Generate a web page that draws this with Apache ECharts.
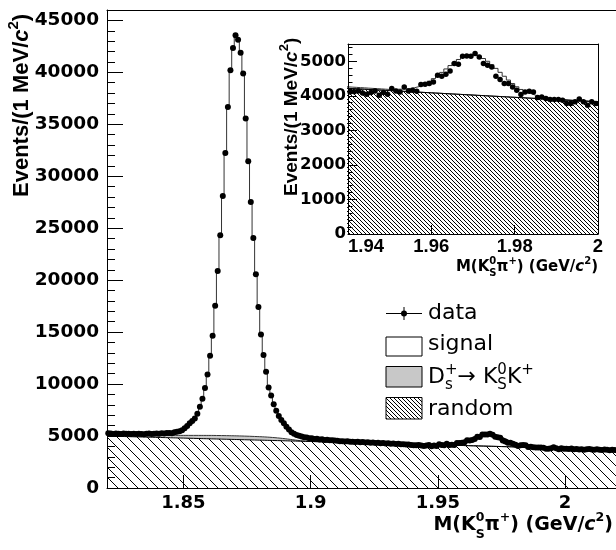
<!DOCTYPE html>
<html><head><meta charset="utf-8">
<script src="https://cdn.jsdelivr.net/npm/echarts@6/dist/echarts.min.js"></script>
<style>html,body{margin:0;padding:0;background:#fff}#c{width:616px;height:550px}</style>
</head><body><div id="c"></div>
<script>
// ---- binning: 200 bins of 1 MeV from 1.82 to 2.02 GeV ----
const massLow = 1.82, massHigh = 2.02, nBins = 200;

// data: events per bin
const counts = [
5260,5240,5200,5250,5230,5190,5240,5210,5230,5200,
5220,5190,5230,5200,5180,5220,5240,5200,5230,5250,
5230,5260,5240,5290,5300,5280,5360,5420,5450,5560,
5740,5960,6220,6440,6700,7140,7820,8590,9615,10930,
12720,14640,17530,20890,24330,28100,32240,36660,40190,42340,
43560,43140,41890,39880,35550,31440,27530,24070,20580,17430,
14780,12790,11180,9680,8910,8050,7430,6920,6540,6220,
5890,5640,5360,5230,5110,5020,4960,4890,4860,4790,
4780,4720,4730,4670,4680,4620,4640,4590,4600,4560,
4540,4500,4510,4470,4490,4450,4460,4420,4440,4410,
4420,4380,4400,4360,4370,4330,4350,4310,4320,4290,
4300,4260,4280,4240,4250,4200,4220,4180,4190,4150,
4110,4120,4140,4085,4046,4095,4143,4017,4095,4046,
4210,4143,4114,4258,4143,4162,4133,4325,4335,4355,
4403,4595,4566,4624,4721,4933,4913,5145,5155,5145,
5222,5125,4933,4884,4836,4566,4470,4355,4355,4258,
4162,4037,4114,4133,4114,3950,3969,3921,3892,3892,
3892,3873,3776,3776,3825,3911,3825,3728,3825,3776,
3780,3750,3800,3720,3760,3700,3740,3690,3720,3760,
3700,3680,3720,3690,3650,3700,3670,3640,3690,3650];

// fit component: random (combinatorial) background
const randomBg = [
4990,4984,4977,4971,4964,4958,4951,4945,4938,4932,
4925,4919,4912,4906,4899,4893,4886,4880,4873,4867,
4860,4854,4847,4841,4834,4828,4821,4815,4808,4802,
4795,4789,4782,4776,4769,4763,4756,4750,4743,4737,
4730,4724,4717,4711,4704,4698,4691,4685,4678,4672,
4665,4659,4652,4646,4639,4633,4626,4620,4613,4607,
4600,4594,4587,4581,4574,4568,4561,4555,4548,4542,
4535,4529,4522,4516,4509,4503,4496,4490,4483,4477,
4470,4464,4457,4451,4444,4438,4431,4425,4418,4412,
4405,4399,4392,4386,4379,4373,4366,4360,4353,4347,
4340,4334,4327,4321,4314,4308,4301,4295,4288,4282,
4275,4269,4262,4256,4249,4243,4236,4230,4223,4217,
4210,4204,4197,4191,4184,4178,4171,4165,4158,4152,
4145,4139,4132,4126,4119,4113,4106,4100,4093,4087,
4080,4074,4067,4061,4054,4048,4041,4035,4028,4022,
4015,4009,4002,3996,3989,3983,3976,3970,3963,3957,
3950,3944,3937,3931,3924,3918,3911,3905,3898,3892,
3885,3879,3872,3866,3859,3853,3846,3840,3833,3827,
3820,3814,3807,3801,3794,3788,3781,3775,3768,3762,
3755,3749,3742,3736,3729,3723,3716,3710,3703,3697];

// fit component: D_s+ -> K_S0 K+ peaking background
const peakingBg = [
120,123,126,129,132,135,138,141,144,147,
150,155,160,165,170,175,180,185,190,195,
200,207,214,221,228,235,242,249,256,263,
270,276,282,288,294,300,306,312,318,324,
330,333,336,339,342,345,347,349,350,351,
352,352,351,350,348,346,343,340,336,332,
327,320,312,302,290,276,260,242,222,200,
176,150,124,98,74,52,34,20,10,4,
0,0,0,0,0,0,0,0,0,0, 0,0,0,0,0,0,0,0,0,0,
0,0,0,0,0,0,0,0,0,0, 0,0,0,0,0,0,0,0,0,0,
0,0,0,0,0,0,0,0,0,0, 0,0,0,0,0,0,0,0,0,0,
0,0,0,0,0,0,0,0,0,0, 0,0,0,0,0,0,0,0,0,0,
0,0,0,0,0,0,0,0,0,0, 0,0,0,0,0,0,0,0,0,0];

// fit component: signal
const signalFit = [
120,121,123,124,126,127,129,130,133,135,
138,138,140,141,144,146,150,154,160,166,
175,183,194,208,228,252,287,331,391,475,
635,855,1136,1386,1687,2087,2738,3538,4559,5869,
7660,9593,12467,15850,19284,23057,27212,31616,35172,37327,
38483,38139,36897,34874,30563,26471,22561,19110,15631,12491,
9853,7876,6281,4797,4046,3206,2609,2123,1760,1468,
1189,961,754,606,517,445,400,370,347,319,
300,276,253,234,216,202,189,175,167,158,
150,141,133,126,121,115,110,105,101,97,
94,90,87,83,81,78,76,73,71,68,
66,63,61,58,56,53,51,48,46,43,
42,41,40,39,38,37,36,35,34,33,
45,51,61,75,95,122,159,206,264,335,
417,510,611,717,822,922,1011,1083,1134,1160,
1159,1131,1078,1004,913,811,704,596,493,398,
312,240,181,133,95,67,46,31,20,13,
8,5,3,2,1,0,0,0,0,0,
0,0,0,0,0,0,0,0,0,0, 0,0,0,0,0,0,0,0,0,0];

// tick labels
const xTicks = [1.85, 1.9, 1.95, 2];
const yTicks = [0, 5000, 10000, 15000, 20000, 25000, 30000, 35000, 40000, 45000];
const insetXTicks = [1.94, 1.96, 1.98, 2];
const insetYTicks = [0, 1000, 2000, 3000, 4000, 5000];
const legendLabels = ['data', 'signal', 'D_s^+ → K_S^0 K^+', 'random'];

// ---- derived structures ----
const binW = (massHigh - massLow) / nBins;
const edges = []; for (let i = 0; i <= nBins; i++) edges.push(+(massLow + i * binW).toFixed(4));
const centers = counts.map((_, i) => +((edges[i] + edges[i + 1]) / 2).toFixed(5));
const cumRandom = randomBg.slice();
const cumPeaking = randomBg.map((v, i) => v + peakingBg[i]);
const cumTotal = cumPeaking.map((v, i) => v + signalFit[i]);
function stepData(vals) { const d = vals.map((v, i) => [edges[i], v]); d.push([edges[nBins], vals[nBins - 1]]); return d; }
const dataPts = counts.map((v, i) => [centers[i], v]);
const yMinor = []; for (let k = 0; k < yTicks.length; k++) for (let j = 1; j < 5; j++) { const v = yTicks[k] + j * 1000; if (v < 46000) yMinor.push(v); }
const insetYMinor = []; for (let k = 0; k < insetYTicks.length; k++) for (let j = 1; j < 5; j++) { const v = insetYTicks[k] + j * 200; if (v < 5500) insetYMinor.push(v); }
const plain = v => String(+v.toFixed(4));

function makeHatch(n) {
  const c = document.createElement('canvas'); c.width = n; c.height = n;
  const g = c.getContext('2d');
  g.fillStyle = '#fff'; g.fillRect(0, 0, n, n);
  g.strokeStyle = '#000'; g.lineWidth = 1;
  g.beginPath();
  for (const k of [-n, 0, n]) { g.moveTo(-1, k - 1); g.lineTo(n + 1, k + n + 1); }
  g.stroke();
  return c;
}
const hatchBig = { image: makeHatch(10), repeat: 'repeat' };
const hatchSmall = { image: makeHatch(4), repeat: 'repeat' };
const GRAY = '#c8c8c8';

function hist(vals, xi, yi, fill, lc) {
  return { type: 'line', xAxisIndex: xi, yAxisIndex: yi, data: stepData(vals), step: 'end',
    symbol: 'none', showSymbol: false, silent: true, clip: true, animation: false,
    lineStyle: { color: lc, width: 1 }, areaStyle: { color: fill, opacity: 1, origin: 'start' } };
}
function scat(xi, yi, size) {
  return { type: 'scatter', xAxisIndex: xi, yAxisIndex: yi, data: dataPts, symbol: 'circle', symbolSize: size,
    itemStyle: { color: '#000', opacity: 1, borderWidth: 0 }, silent: true, clip: true, animation: false, z: 3 };
}

// ---- text layout helpers (sub/superscripts) ----
const mc = document.createElement('canvas').getContext('2d');
function layoutParts(parts) {
  let x = 0, pend = 0; const items = [];
  for (const p of parts) {
    mc.font = `${p.style || 'normal'} ${p.weight || 'normal'} ${p.size}px ${p.family}`;
    const w = mc.measureText(p.t).width;
    items.push({ x, p });
    if (p.hold) pend = Math.max(pend, w); else { x += Math.max(w, pend); pend = 0; }
  }
  return { items, width: x };
}
function textEls(parts, ox, baseY, align) {
  const L = layoutParts(parts);
  const x0 = align === 'right' ? ox - L.width : ox;
  return L.items.map(it => ({ type: 'text', x: x0 + it.x, y: baseY + (it.p.dy || 0) - 0.35 * it.p.size, silent: true,
    style: { text: it.p.t, fontSize: it.p.size, fontFamily: it.p.family, fontWeight: it.p.weight || 'normal',
      fontStyle: it.p.style || 'normal', fill: '#000', align: 'left', verticalAlign: 'middle' } }));
}
function P(t, size, family, weight, extra) { return Object.assign({ t, size, family, weight }, extra || {}); }

function xTitle(size, sub, family) {
  const B = 'bold';
  return [P('M(K', size, family, B), P('0', sub, family, B, { dy: -0.5 * size, hold: true }), P('S', sub, family, B, { dy: 0.35 * size }),
    P('π', size, family, B), P('+', sub, family, B, { dy: -0.5 * size }), P(') (GeV/', size, family, B),
    P('c', size, family, B, { style: 'italic' }), P('2', sub, family, B, { dy: -0.5 * size }), P(')', size, family, B)];
}
function yTitle(size, sub, family) {
  const B = 'bold';
  return [P('Events/(1 MeV/', size, family, B), P('c', size, family, B, { style: 'italic' }),
    P('2', sub, family, B, { dy: -0.45 * size }), P(')', size, family, B)];
}

const LF = 'DejaVu Sans';
const graphics = [];
// axis titles
graphics.push(...textEls(xTitle(19, 12.5, 'DejaVu Sans'), 613, 532, 'right'));
graphics.push(...textEls(xTitle(15, 10, 'DejaVu Sans'), 598, 272, 'right'));
graphics.push({ type: 'group', x: 29.5, y: 197, rotation: Math.PI / 2, children: textEls(yTitle(22, 15, 'Liberation Sans'), 0, 0, 'left') });
graphics.push({ type: 'group', x: 298, y: 196, rotation: Math.PI / 2, children: textEls(yTitle(19, 13, 'Liberation Sans'), 0, 0, 'left') });
// legend
const lx = 386, lw = 36, tx = 428;
graphics.push({ type: 'line', shape: { x1: lx, y1: 313.5, x2: lx + lw, y2: 313.5 }, style: { stroke: '#000', lineWidth: 1 }, silent: true });
graphics.push({ type: 'line', shape: { x1: 404, y1: 307, x2: 404, y2: 320 }, style: { stroke: '#000', lineWidth: 1 }, silent: true });
graphics.push({ type: 'circle', shape: { cx: 404, cy: 313.5, r: 3 }, style: { fill: '#000' }, silent: true });
graphics.push(...textEls([P(legendLabels[0], 22, LF, 'normal')], tx, 321, 'left'));
graphics.push({ type: 'rect', shape: { x: lx, y: 337, width: lw, height: 19 }, style: { fill: '#fff', stroke: '#000', lineWidth: 1 }, silent: true });
graphics.push(...textEls([P(legendLabels[1], 22, LF, 'normal')], tx, 352, 'left'));
graphics.push({ type: 'rect', shape: { x: lx, y: 366.5, width: lw, height: 20.5 }, style: { fill: GRAY, stroke: '#000', lineWidth: 1 }, silent: true });
graphics.push(...textEls([P('D', 22, LF, 'normal'), P('s', 15, LF, 'normal', { dy: 5, hold: true }), P('+', 15, LF, 'normal', { dy: -10 }),
  P('→ K', 22, LF, 'normal'), P('0', 15, LF, 'normal', { dy: -10, hold: true }), P('S', 15, LF, 'normal', { dy: 5 }),
  P('K', 22, LF, 'normal'), P('+', 15, LF, 'normal', { dy: -10 })], tx, 385, 'left'));
graphics.push({ type: 'rect', shape: { x: lx, y: 397.5, width: lw, height: 21.5 }, style: { fill: hatchSmall, stroke: '#000', lineWidth: 1 }, silent: true });
graphics.push(...textEls([P(legendLabels[3], 22, LF, 'normal')], tx, 417, 'left'));

const AX = { color: '#000', width: 1 };
const noSplit = { show: false };
function frameAxis(extra) { return Object.assign({ type: 'value', axisLine: { show: true, onZero: false, lineStyle: AX }, axisTick: { show: false }, axisLabel: { show: false }, splitLine: noSplit, z: 10 }, extra); }

const option = {
  animation: false,
  backgroundColor: '#fff',
  grid: [
    { left: 107, top: 10, width: 509, height: 478, containLabel: false, outerBoundsMode: 'none' },
    { left: 348, top: 44, width: 250, height: 190, containLabel: false, outerBoundsMode: 'none', show: true, backgroundColor: '#fff', borderWidth: 0 }
  ],
  xAxis: [
    { gridIndex: 0, type: 'value', min: massLow, max: massHigh, position: 'bottom', z: 10,
      axisLine: { show: true, onZero: false, lineStyle: AX },
      axisTick: { show: true, inside: true, length: 13, customValues: xTicks, lineStyle: AX },
      axisLabel: { customValues: xTicks, formatter: plain, margin: 6, color: '#000', fontFamily: 'DejaVu Sans', fontWeight: 'bold', fontSize: 18 },
      splitLine: noSplit },
    frameAxis({ gridIndex: 0, min: massLow, max: massHigh, position: 'top' }),
    { gridIndex: 1, type: 'value', min: 1.94, max: 2.0, position: 'bottom', z: 10,
      axisLine: { show: true, onZero: false, lineStyle: AX },
      axisTick: { show: true, inside: true, length: 9, customValues: insetXTicks, lineStyle: AX },
      axisLabel: { customValues: insetXTicks, formatter: plain, margin: 3, color: '#000', fontFamily: 'Liberation Sans', fontWeight: 'bold', fontSize: 18.5, alignMinLabel: 'left' },
      splitLine: noSplit },
    frameAxis({ gridIndex: 1, min: 1.94, max: 2.0, position: 'top' })
  ],
  yAxis: [
    { gridIndex: 0, type: 'value', min: 0, max: 46000, position: 'left', z: 10,
      axisLine: { show: true, onZero: false, lineStyle: AX },
      axisTick: { show: true, inside: true, length: 16, customValues: yTicks, lineStyle: AX },
      axisLabel: { customValues: yTicks, formatter: plain, margin: 8, color: '#000', fontFamily: 'DejaVu Sans', fontWeight: 'bold', fontSize: 18.5 },
      splitLine: noSplit },
    { gridIndex: 0, type: 'value', min: 0, max: 46000, position: 'left', z: 10,
      axisLine: { show: false }, axisTick: { show: true, inside: true, length: 8, customValues: yMinor, lineStyle: AX },
      axisLabel: { show: false }, splitLine: noSplit },
    { gridIndex: 1, type: 'value', min: 0, max: 5500, position: 'left', z: 10,
      axisLine: { show: true, onZero: false, lineStyle: AX },
      axisTick: { show: true, inside: true, length: 9, customValues: insetYTicks, lineStyle: AX },
      axisLabel: { customValues: insetYTicks, formatter: plain, margin: 2, color: '#000', fontFamily: 'DejaVu Sans', fontWeight: 'bold', fontSize: 16.5 },
      splitLine: noSplit },
    { gridIndex: 1, type: 'value', min: 0, max: 5500, position: 'left', z: 10,
      axisLine: { show: false }, axisTick: { show: true, inside: true, length: 4.5, customValues: insetYMinor, lineStyle: AX },
      axisLabel: { show: false }, splitLine: noSplit },
    frameAxis({ gridIndex: 1, min: 0, max: 5500, position: 'right' })
  ],
  series: [
    hist(cumTotal, 0, 0, '#fff', '#333'),
    hist(cumPeaking, 0, 0, GRAY, '#333'),
    hist(cumRandom, 0, 0, hatchBig, '#000'),
    scat(0, 0, 6),
    hist(cumTotal, 2, 2, '#fff', '#333'),
    hist(cumPeaking, 2, 2, GRAY, '#333'),
    hist(cumRandom, 2, 2, hatchSmall, '#000'),
    scat(2, 2, 5.5)
  ],
  graphic: graphics
};
const chart = echarts.init(document.getElementById('c'), null, { renderer: 'canvas' });
chart.setOption(option);
</script></body></html>
